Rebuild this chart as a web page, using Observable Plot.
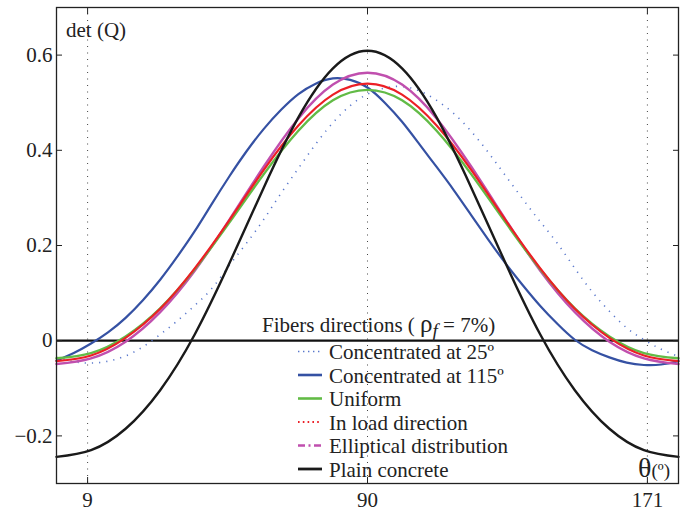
<!DOCTYPE html>
<html>
<head>
<meta charset="utf-8">
<script src="https://cdn.jsdelivr.net/npm/d3@7"></script>
<script src="https://cdn.jsdelivr.net/npm/@observablehq/plot@0.6"></script>
<style>
  html, body { margin: 0; padding: 0; background: #fff; }
  #chart { width: 689px; height: 512px; }
  #chart svg, #chart svg text { font-family: "Liberation Serif", "Times New Roman", "DejaVu Serif", serif !important; }
</style>
</head>
<body>
<div id="chart"></div>
<script>
// θ grids (degrees)
const theta10 = [0,10,20,30,40,50,60,70,80,90,100,110,120,130,140,150,160,170,180];
const theta5 = [0,5,10,15,20,25,30,35,40,45,50,55,60,65,70,75,80,85,90,95,100,105,110,115,120,125,130,135,140,145,150,155,160,165,170,175,180];

// det(Q) series
const conc25 = [-0.035,-0.044,-0.047,-0.043,-0.032,-0.013,0.013,0.042,0.074,0.110,0.158,0.205,0.255,0.310,0.362,0.413,0.458,0.494,0.518,0.531,0.534,0.525,0.505,0.477,0.440,0.395,0.346,0.297,0.250,0.204,0.152,0.103,0.062,0.027,0.002,-0.018,-0.033];
const conc115 = [-0.042,-0.026,-0.006,0.018,0.048,0.085,0.128,0.177,0.230,0.288,0.345,0.398,0.445,0.485,0.518,0.540,0.551,0.548,0.532,0.500,0.460,0.413,0.365,0.316,0.264,0.212,0.162,0.116,0.073,0.035,0.002,-0.020,-0.035,-0.046,-0.051,-0.050,-0.043];
const uniform = [-0.037,-0.026,0.009,0.068,0.150,0.248,0.350,0.441,0.505,0.527,0.505,0.441,0.350,0.248,0.150,0.068,0.009,-0.026,-0.037];
const loadDir = [-0.043,-0.031,0.006,0.067,0.152,0.253,0.359,0.452,0.517,0.540,0.517,0.452,0.359,0.253,0.152,0.067,0.006,-0.031,-0.043];
const elliptical = [-0.049,-0.037,-0.002,0.060,0.147,0.254,0.366,0.467,0.538,0.563,0.538,0.467,0.366,0.254,0.147,0.060,-0.002,-0.037,-0.049];
const plain = [-0.244,-0.230,-0.185,-0.104,0.013,0.162,0.322,0.469,0.572,0.609,0.572,0.469,0.322,0.162,0.013,-0.104,-0.185,-0.230,-0.244];

const xTicks = [9, 90, 171];
const xTickLabels = ["9", "90", "171"];
const yTicks = [-0.2, 0, 0.2, 0.4, 0.6];
const yTickLabels = ["\u22120.2", "0", "0.2", "0.4", "0.6"];
const guideLines = [9, 90, 171];

const legendNames = ["Concentrated at 25º", "Concentrated at 115º", "Uniform", "In load direction", "Elliptical distribution", "Plain concrete"];

const C = {
  conc25: "#5a78cc",
  conc115: "#3551a3",
  uniform: "#62bb46",
  load: "#ec1f26",
  ell: "#c04fae",
  plain: "#1a1a1a"
};

const toRows = (xs, ys) => xs.map((x, i) => ({x, y: ys[i]}));

const FONT = "'Liberation Serif', 'Times New Roman', 'DejaVu Serif', serif";

const plot = Plot.plot({
  width: 689,
  height: 512,
  marginLeft: 56,
  marginRight: 11,
  marginTop: 7,
  marginBottom: 29,
  style: {fontFamily: FONT, fontSize: "21px", background: "#fff", color: "#222"},
  x: {domain: [0, 180]},
  y: {domain: [-0.3, 0.7]},
  marks: [
    Plot.ruleX(guideLines, {stroke: "#444", strokeWidth: 1, strokeDasharray: "1,5.5"}),
    Plot.ruleY([0], {stroke: "#111", strokeWidth: 2.2}),
    Plot.line(toRows(theta5, conc25), {x: "x", y: "y", curve: "natural", stroke: C.conc25, strokeWidth: 1.6, strokeDasharray: "1.2,6", strokeLinecap: "butt"}),
    Plot.line(toRows(theta5, conc115), {x: "x", y: "y", curve: "natural", stroke: C.conc115, strokeWidth: 2.2}),
    Plot.line(toRows(theta10, elliptical), {x: "x", y: "y", curve: "natural", stroke: C.ell, strokeWidth: 2.4}),
    Plot.line(toRows(theta10, uniform), {x: "x", y: "y", curve: "natural", stroke: C.uniform, strokeWidth: 2.4}),
    Plot.line(toRows(theta10, loadDir), {x: "x", y: "y", curve: "natural", stroke: C.load, strokeWidth: 2.2}),
    Plot.line(toRows(theta10, plain), {x: "x", y: "y", curve: "natural", stroke: C.plain, strokeWidth: 2.4}),
    Plot.frame({stroke: "#222", strokeWidth: 1.3}),
    // tick labels
    Plot.axisY({anchor: "left", ticks: yTicks, tickFormat: (d) => yTickLabels[yTicks.indexOf(d)], tickSize: 0, tickPadding: 4, fontSize: 21, label: null}),
    Plot.axisX({anchor: "bottom", ticks: xTicks, tickFormat: (d) => xTickLabels[xTicks.indexOf(d)], tickSize: 0, tickPadding: 9, fontSize: 21, label: null}),
    // inward tick marks (MATLAB style)
    Plot.axisY({anchor: "left", ticks: yTicks, tickSize: 6, dx: 6, text: null, label: null, stroke: "#222"}),
    Plot.axisY({anchor: "right", ticks: yTicks, tickSize: 6, dx: -6, text: null, label: null, stroke: "#222"}),
    Plot.axisX({anchor: "bottom", ticks: xTicks, tickSize: 6, dy: -6, text: null, label: null, stroke: "#222"}),
    Plot.axisX({anchor: "top", ticks: xTicks, tickSize: 6, dy: 6, text: null, label: null, stroke: "#222"})
  ]
});

document.getElementById("chart").appendChild(plot);

// Annotations and legend
const svg = d3.select(plot);
const g = svg.append("g")
  .attr("font-family", FONT)
  .attr("text-anchor", "start")
  .attr("fill", "#222");

g.append("text").attr("x", 66).attr("y", 37).attr("font-size", 21).text("det (Q)");

const th = g.append("text").attr("x", 638).attr("y", 477);
th.append("tspan").attr("font-size", 28).text("θ");
th.append("tspan").attr("font-size", 19).text("(º)");

// legend title
const title = g.append("text").attr("x", 262).attr("y", 332).attr("font-size", 21);
title.append("tspan").text("Fibers directions ( ");
title.append("tspan").attr("font-size", 25).text("ρ");
title.append("tspan").attr("font-style", "italic").attr("dy", 5).attr("font-size", 19).text("f");
title.append("tspan").attr("dy", -5).text(" = 7%)");

const legendStyles = [
  {stroke: C.conc25, dash: "1.4,3.6", w: 1.6},
  {stroke: C.conc115, dash: null, w: 2.6},
  {stroke: C.uniform, dash: null, w: 2.6},
  {stroke: C.load, dash: "1.6,3.2", w: 1.8},
  {stroke: C.ell, dash: "7,3.5,2,3.5", w: 2.4},
  {stroke: C.plain, dash: null, w: 2.8}
];
legendNames.forEach((name, i) => {
  const yb = 359 + i * 23.5;
  const s = legendStyles[i];
  g.append("line")
    .attr("x1", 298).attr("x2", 322)
    .attr("y1", yb - 7.5).attr("y2", yb - 7.5)
    .attr("stroke", s.stroke).attr("stroke-width", s.w)
    .attr("stroke-dasharray", s.dash);
  g.append("text").attr("x", 329).attr("y", yb).attr("font-size", 21).text(name);
});
</script>
</body>
</html>
